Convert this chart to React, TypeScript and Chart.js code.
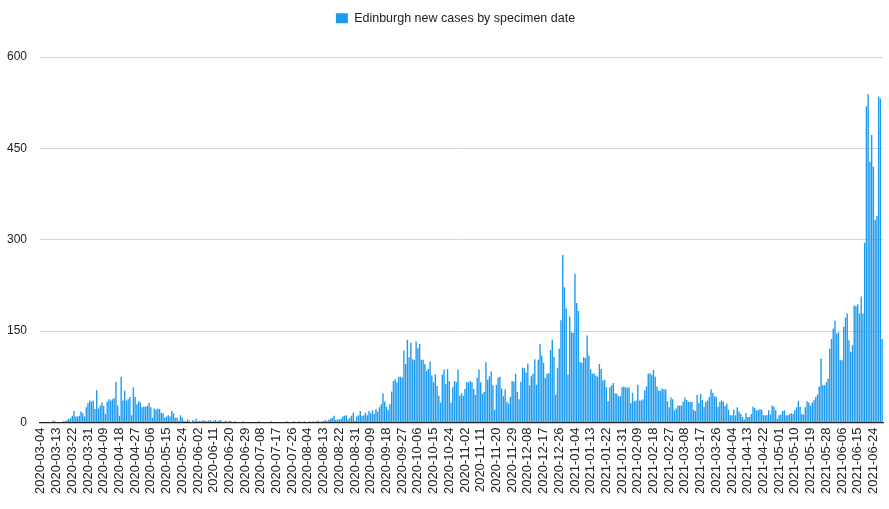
import React, { useEffect, useRef } from 'react';
import { Chart, registerables } from 'chart.js';

Chart.register(...registerables);

const START_DATE = '2020-03-04';
const LABEL_EVERY = 9;
const SERIES_LABEL = 'Edinburgh new cases by specimen date';
const Y_MAX = 600;
const Y_STEP = 150;

// Daily values, 2020-03-04 ... 2021-06-29
const casesMarApr2020 = [0,1,0,1,1,0,1,3,2,1, 0,0,1,2,2,4,6,7,11,19, 10,10,11,18,15,10,25,32,36,34, 36,22,53,23,28,33,27,14,34,38, 36,38,40,67,28,11,75,36,52,36, 38];
const casesMay2020 = [42,12,58,42,30,35,33,25,26,26, 27,32,25,8,23,21,23,22,16,15, 8,10,12,10,19,15,8,8,3,12, 8,3,2];
const casesSummer2020 = [5,3,1,4,2,6,2,3,2,4, 3,2,3,4,2,3,4,2,3,4, 1,2,3,1,3,2,1,2,0,1, 1,0,2,0,1,0,0,1,0,1, 0,2,0,0,1,0,1,0,2,1, 0,1,0,0,1,0,1,2,1,0, 1,2,0,1,2,0,1,2,1,0, 2,1,2,0,2,3,1,2,2];
const casesAugSep2020 = [4,2,5,6,8,11,4,5,5,6, 10,11,12,5,8,11,16,3,10,12, 19,11,12,16,12,19,15,20,14,22, 18];
const casesSepNov2020 = [25,30,48,34,26,21,30,51,68,71, 66,75,75,74,118,96,136,107,131,104, 103,133,122,129,103,103,96,85,88,100, 77,66,79,60,44,33,79,87,63,88, 68,33,58,68,66,87,44,48,44,55, 66,66,68,66,55,45,74];
const casesNovJan2021 = [87,66,47,50,99,70,76,84,61,21, 62,74,75,56,43,54,34,31,42,68, 67,80,50,38,67,90,89,82,97,61, 76,80,104, 62,103,129,110,98,73,80,81,119,136, 108,46,90,121,168,275,222,187,79,174, 148,147,244,196,183];
const casesJanFeb2021 = [99,98,107,106,143,110,87,80,81,77, 75,96,88,69,70,58,35,58,61,65, 48,47,43,43,58,59,58,57,58,32, 49,35,36,62,36,36,38,53,59,80];
const casesFebApr2021 = [81,78,86,75,59,52,52,56,54,54, 35,25,41,38,20,23,28,28,28,34, 41,37,34,34,34,21,19,45,32,47, 37,26,34,36,42,54,49,43,42,26, 34,36,34,27,31,21,12,12,21,12, 25,18,14,9,5,15,9];
const casesAprMay2021 = [9,14,26,24,20,20,22,21,12,12, 12,20,13,28,26,20,6,12,13,19, 20,12,12,14,15,14,20,25,35,26, 14,13,25,35,33,28,33,37,42,46, 59,105,61,61,66,72,121];
const casesJun2021 = [137,154,167,146,148,102,102,157,172,179, 135,116,127,192,191,194,179,207,179,295, 519,539,428,472,420,333,339,535,532,137];

const newCases = [
  ...casesMarApr2020, ...casesMay2020, ...casesSummer2020, ...casesAugSep2020,
  ...casesSepNov2020, ...casesNovJan2021, ...casesJanFeb2021, ...casesFebApr2021,
  ...casesAprMay2021, ...casesJun2021,
];

function buildDates(start: string, n: number): string[] {
  const base = new Date(start + 'T00:00:00Z').getTime();
  const out: string[] = [];
  for (let i = 0; i < n; i++) {
    out.push(new Date(base + i * 86400000).toISOString().slice(0, 10));
  }
  return out;
}

const dates = buildDates(START_DATE, newCases.length);

const legendSpacer = {
  id: 'legendSpacer',
  beforeInit(chart: any) {
    const lg = chart.legend;
    if (lg && !lg.__patched) {
      const orig = lg.fit.bind(lg);
      lg.fit = function () {
        orig();
        if (this.options && this.options.display) this.height += 22.5;
      };
      lg.__patched = true;
    }
  },
  afterLayout(chart: any) {
    const lg = chart.legend;
    if (lg) {
      lg.left -= 6;
      lg.right -= 6;
    }
  },
};

export default function App() {
  const ref = useRef<HTMLCanvasElement | null>(null);

  useEffect(() => {
    if (!ref.current) return;
    Chart.defaults.font.family = '"Liberation Sans", Arial, Helvetica, sans-serif';
    const chart = new Chart(ref.current, {
      type: 'bar',
      data: {
        labels: dates,
        datasets: [
          {
            label: SERIES_LABEL,
            data: newCases,
            backgroundColor: 'rgb(29,155,240)',
            borderWidth: 0,
            categoryPercentage: 1,
            barPercentage: 0.8,
          },
        ],
      },
      options: {
        animation: false,
        responsive: true,
        maintainAspectRatio: false,
        layout: { padding: { left: 7, right: 6, top: 2, bottom: 10 } },
        plugins: {
          legend: {
            position: 'top',
            fullSize: false,
            labels: {
              boxWidth: 12,
              boxHeight: 10,
              padding: 10,
              color: '#222',
              font: { size: 12.5 },
            },
          },
          tooltip: { enabled: false },
        },
        scales: {
          x: {
            grid: { display: false, drawTicks: false },
            border: { display: true, color: '#222', width: 1.2 },
            afterFit: (s: any) => {
              s.paddingRight = 0;
            },
            ticks: {
              autoSkip: false,
              maxRotation: 90,
              minRotation: 90,
              padding: 5,
              color: '#222',
              font: { size: 13 },
              callback: (_v: any, idx: number) => (idx % LABEL_EVERY === 0 ? dates[idx] : ''),
            },
          },
          y: {
            min: 0,
            max: Y_MAX,
            grid: { color: '#d6d6d6', drawTicks: false },
            border: { display: false },
            afterFit: (s: any) => {
              s.width = 33;
            },
            ticks: {
              stepSize: Y_STEP,
              padding: 13,
              color: '#222',
              font: { size: 12 },
            },
          },
        },
      },
      plugins: [legendSpacer],
    });
    return () => chart.destroy();
  }, []);

  return (
    <div style={{ position: 'absolute', left: 0, top: 0, width: 889, height: 509 }}>
      <canvas ref={ref} />
    </div>
  );
}
